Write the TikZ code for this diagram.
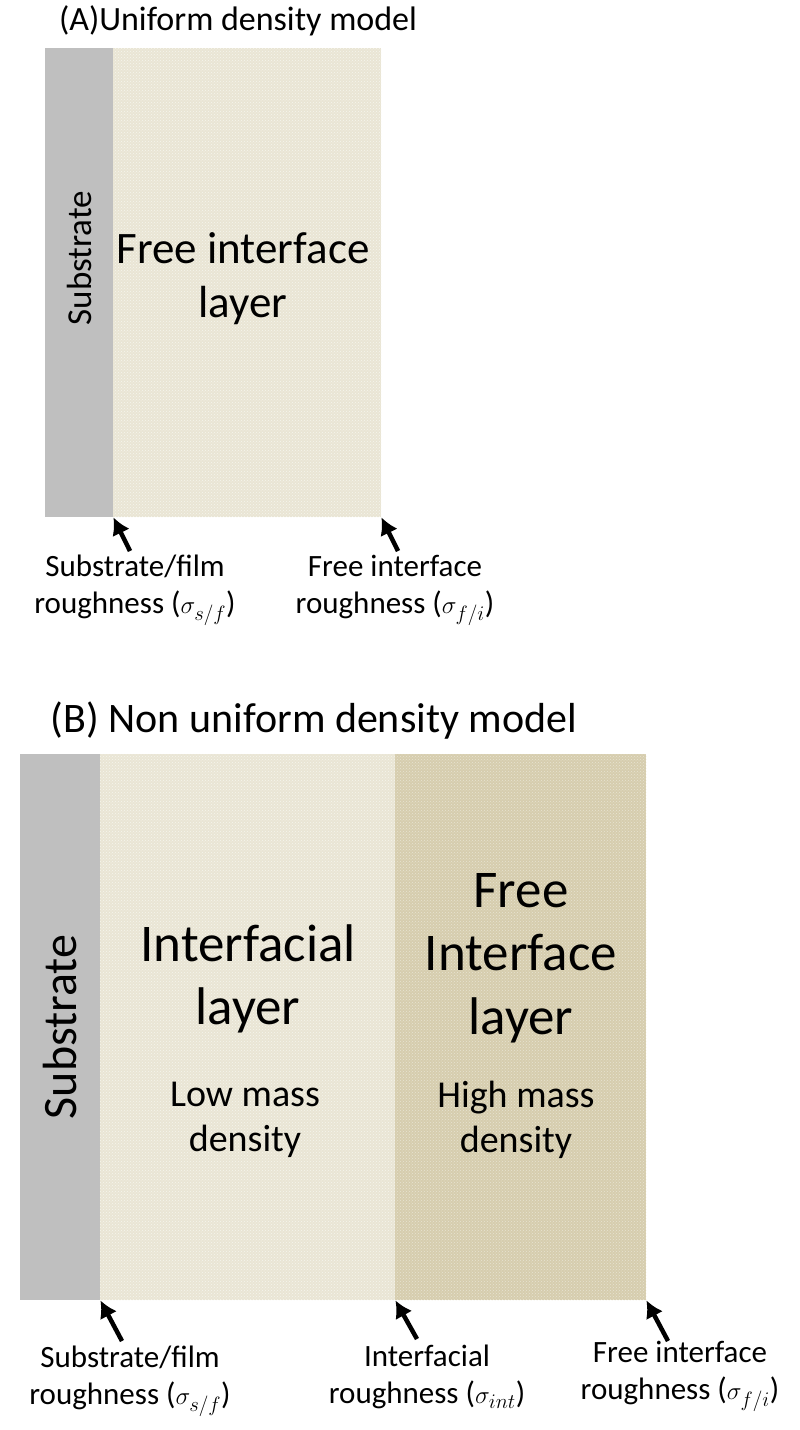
\documentclass[tikz,border=0pt]{standalone}
\usepackage{fontspec}
\setmainfont{Carlito}
\usepackage{amsmath}
\usetikzlibrary{arrows.meta,positioning,patterns}
\definecolor{subgray}{RGB}{191,191,191}
\definecolor{filmlight}{RGB}{233,229,212}
\definecolor{filmdark}{RGB}{214,205,174}
\newcommand{\fs}[1]{\fontsize{#1}{1.2\dimexpr #1pt\relax}\selectfont}

\begin{document}
\begin{tikzpicture}[x=1pt,y=-1pt,
    layerbox/.style={inner sep=0pt, anchor=north west, draw=none},
    rougharrow/.style={-{Latex[length=17pt,width=19pt]}, line width=4.5pt},
    roughlabel/.style={align=center, font=\fs{31}, inner sep=0pt}]
  \useasboundingbox (0,0) rectangle (800,1430);

  % (A) uniform density model
  \node[font=\fs{34}, inner sep=0pt] (titleA) at (238,21) {(A)Uniform density model};
  \node[layerbox, fill=subgray, minimum width=68, minimum height=469] (subA) at (45,48) {};
  \node[layerbox, fill=filmlight, minimum width=268, minimum height=469] (filmA) at (113,48) {};
  \fill[pattern=crosshatch dots, pattern color=white!60!filmlight] (filmA.north west) rectangle (filmA.south east);
  \node[rotate=90, font=\fs{35}, inner sep=0pt] (subAtext) at (79,258) {Substrate};
  \node[align=center, font=\fs{45}, inner sep=0pt] (filmAtext) at (243,279) {Free interface\\layer};

  % roughness arrows of (A)
  \coordinate (tailA1) at (130,551);
  \coordinate (tailA2) at (398,551);
  \draw[rougharrow] (tailA1) -- (subA.south east);
  \draw[rougharrow] (tailA2) -- (filmA.south east);
  \node[roughlabel] (labA1) at (135,590) {Substrate/film\\roughness ($\sigma_{s/f}$)};
  \node[roughlabel] (labA2) at (395,590) {Free interface\\roughness ($\sigma_{f/i}$)};

  % (B) non uniform density model
  \node[font=\fs{42}, inner sep=0pt] (titleB) at (314,721) {(B) Non uniform density model};
  \node[layerbox, fill=subgray, minimum width=80, minimum height=546] (subB) at (20,754) {};
  \node[layerbox, fill=filmlight, minimum width=295, minimum height=546] (interB) at (100,754) {};
  \node[layerbox, fill=filmdark, minimum width=251, minimum height=546] (freeB) at (395,754) {};
  \fill[pattern=crosshatch dots, pattern color=white!60!filmlight] (interB.north west) rectangle (interB.south east);
  \fill[pattern=crosshatch dots, pattern color=white!45!filmdark] (freeB.north west) rectangle (freeB.south east);
  \node[rotate=90, font=\fs{48}, inner sep=0pt] (subBtext) at (60,1027) {Substrate};
  \node[align=center, font=\fs{53}, inner sep=0pt] (interBtext) at (248,979) {Interfacial\\layer};
  \node[align=center, font=\fs{38}, inner sep=0pt] (interBnote) at (245,1120) {Low mass\\density};
  \node[align=center, font=\fs{53}, inner sep=0pt] (freeBtext) at (521,958) {Free\\Interface\\layer};
  \node[align=center, font=\fs{38}, inner sep=0pt] (freeBnote) at (516,1120) {High mass\\density};

  % roughness arrows of (B)
  \coordinate (tailB1) at (122,1341);
  \coordinate (tailB2) at (417,1339);
  \coordinate (tailB3) at (668,1341);
  \draw[rougharrow] (tailB1) -- (subB.south east);
  \draw[rougharrow] (tailB2) -- (interB.south east);
  \draw[rougharrow] (tailB3) -- (freeB.south east);
  \node[roughlabel] (labB1) at (130,1381) {Substrate/film\\roughness ($\sigma_{s/f}$)};
  \node[roughlabel] (labB2) at (427,1377) {Interfacial\\roughness ($\sigma_{int}$)};
  \node[roughlabel] (labB3) at (680,1376) {Free interface\\roughness ($\sigma_{f/i}$)};
\end{tikzpicture}
\end{document}
